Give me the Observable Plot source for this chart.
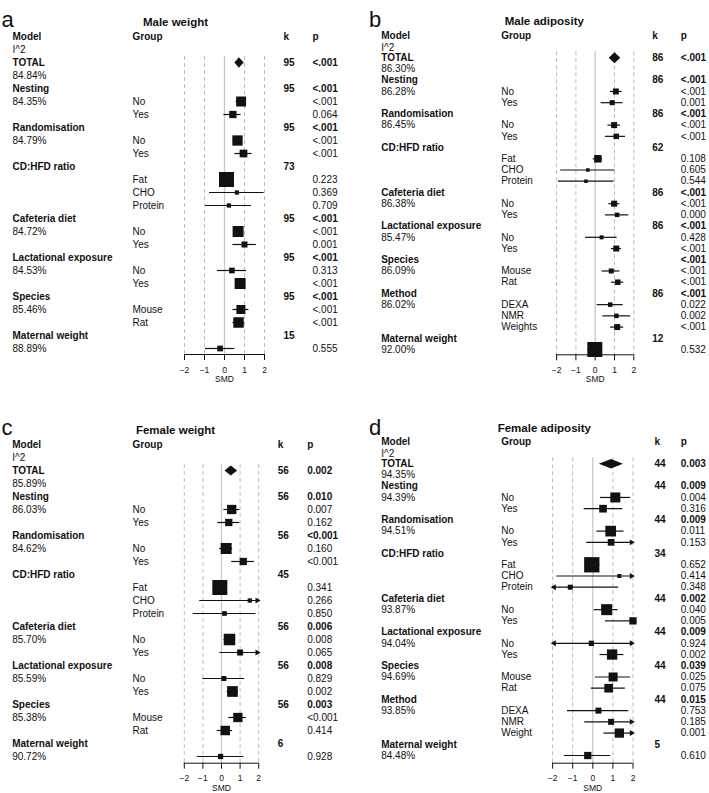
<!DOCTYPE html>
<html><head><meta charset="utf-8">
<script src="https://cdn.jsdelivr.net/npm/d3@7"></script>
<script src="https://cdn.jsdelivr.net/npm/@observablehq/plot@0.6"></script>
<style>
html,body{margin:0;padding:0;background:#fff;overflow:hidden}
#wrap{position:relative;width:709px;height:793px;background:#fff}
.panel{position:absolute}
</style></head><body><div id="wrap"></div>
<script>
// ---------- shared labels ----------
const xTicks = [-2, -1, 0, 1, 2];
const refDashed = [-2, -1, 1, 2];
const refSolid = [0];
const xLabel = "SMD";
const headers = ["Model", "I^2", "Group", "k", "p"];

// ---------- a: Male weight ----------
const mwTitle = "Male weight";
const mwModels = ["TOTAL", "Nesting", "Randomisation", "CD:HFD ratio", "Cafeteria diet", "Lactational exposure", "Species", "Maternal weight"];
const mwI2 = ["84.84%", "84.35%", "84.79%", "", "84.72%", "84.53%", "85.46%", "88.89%"];
const mwK = ["95", "95", "95", "73", "95", "95", "95", "15"];
const mwModelP = ["<.001", "<.001", "<.001", "", "<.001", "<.001", "<.001", ""];
const mwGroups = [[], ["No", "Yes"], ["No", "Yes"], ["Fat", "CHO", "Protein"], ["No", "Yes"], ["No", "Yes"], ["Mouse", "Rat"], [""]];
const mwTotal = [0.72, 0.49, 0.96];
const mwSMD   = [0.83, 0.42, 0.65, 0.95, 0.10, 0.62, 0.22, 0.68, 1.00, 0.37, 0.78, 0.82, 0.70, -0.22];
const mwLower = [0.58, -0.03, 0.43, 0.52, -0.25, -0.75, -0.95, 0.45, 0.42, -0.35, 0.55, 0.42, 0.42, -0.95];
const mwUpper = [1.08, 0.83, 0.87, 1.38, 0.45, 1.98, 1.35, 0.91, 1.60, 1.10, 1.01, 1.22, 1.00, 0.52];
const mwWeight = [10, 7.3, 10.3, 7.7, 15, 4.3, 4.3, 11, 6, 5.7, 11, 9, 10.5, 5.7];
const mwP = ["<.001", "0.064", "<.001", "<.001", "0.223", "0.369", "0.709", "<.001", "0.001", "0.313", "<.001", "<.001", "<.001", "0.555"];

// ---------- b: Male adiposity ----------
const maTitle = "Male adiposity";
const maModels = ["TOTAL", "Nesting", "Randomisation", "CD:HFD ratio", "Cafeteria diet", "Lactational exposure", "Species", "Method", "Maternal weight"];
const maI2 = ["86.30%", "86.28%", "86.45%", "", "86.38%", "85.47%", "86.09%", "86.02%", "92.00%"];
const maK = ["86", "86", "86", "62", "86", "86", "", "86", "12"];
const maModelP = ["<.001", "<.001", "<.001", "", "<.001", "<.001", "<.001", "<.001", ""];
const maGroups = [[], ["No", "Yes"], ["No", "Yes"], ["Fat", "CHO", "Protein"], ["No", "Yes"], ["No", "Yes"], ["Mouse", "Rat"], ["DEXA", "NMR", "Weights"], [""]];
const maTotal = [1.00, 0.70, 1.30];
const maSMD   = [1.07, 0.88, 0.98, 1.09, 0.14, -0.38, -0.48, 0.98, 1.14, 0.33, 1.09, 0.83, 1.17, 0.78, 1.10, 1.14, -0.02];
const maLower = [0.79, 0.31, 0.66, 0.53, -0.10, -1.79, -1.90, 0.71, 0.53, -0.50, 0.84, 0.36, 0.84, 0.10, 0.40, 0.79, -0.38];
const maUpper = [1.40, 1.45, 1.31, 1.57, 0.38, 1.03, 0.98, 1.28, 1.74, 1.14, 1.36, 1.28, 1.48, 1.45, 1.84, 1.48, 0.34];
const maWeight = [6, 5, 6, 5.5, 7.5, 3.5, 3.5, 6, 4.5, 4, 6, 5, 5.5, 4.5, 4.5, 6, 15];
const maP = ["<.001", "0.001", "<.001", "<.001", "0.108", "0.605", "0.544", "<.001", "0.000", "0.428", "<.001", "<.001", "<.001", "0.022", "0.002", "<.001", "0.532"];

// ---------- c: Female weight ----------
const fwTitle = "Female weight";
const fwModels = ["TOTAL", "Nesting", "Randomisation", "CD:HFD ratio", "Cafeteria diet", "Lactational exposure", "Species", "Maternal weight"];
const fwI2 = ["85.89%", "86.03%", "84.62%", "", "85.70%", "85.59%", "85.38%", "90.72%"];
const fwK = ["56", "56", "56", "45", "56", "56", "56", "6"];
const fwModelP = ["0.002", "0.010", "<0.001", "", "0.006", "0.008", "0.003", ""];
const fwGroups = [[], ["No", "Yes"], ["No", "Yes"], ["Fat", "CHO", "Protein"], ["No", "Yes"], ["No", "Yes"], ["Mouse", "Rat"], [""]];
const fwTotal = [0.50, 0.16, 0.84];
const fwSMD   = [0.55, 0.39, 0.25, 1.17, -0.09, 1.52, 0.16, 0.43, 1.00, 0.13, 0.59, 0.88, 0.20, -0.05];
const fwLower = [0.13, -0.20, -0.10, 0.55, -0.45, -1.17, -1.52, 0.13, -0.09, -1.00, 0.30, 0.39, -0.23, -1.30];
const fwUpper = [0.99, 0.98, 0.60, 1.77, 0.27, 2.50, 1.85, 0.76, 2.50, 1.25, 0.90, 1.34, 0.60, 1.20];
const fwWeight = [9.3, 7.3, 11, 7.3, 15, 4.3, 4.7, 11.5, 6, 5, 10.7, 9.3, 9.5, 5.3];
const fwP = ["0.007", "0.162", "0.160", "<0.001", "0.341", "0.266", "0.850", "0.008", "0.065", "0.829", "0.002", "<0.001", "0.414", "0.928"];

// ---------- d: Female adiposity ----------
const faTitle = "Female adiposity";
const faModels = ["TOTAL", "Nesting", "Randomisation", "CD:HFD ratio", "Cafeteria diet", "Lactational exposure", "Species", "Method", "Maternal weight"];
const faI2 = ["94.35%", "94.39%", "94.51%", "", "93.87%", "94.04%", "94.69%", "93.85%", "84.48%"];
const faK = ["44", "44", "44", "34", "44", "44", "44", "44", "5"];
const faModelP = ["0.003", "0.009", "0.009", "", "0.002", "0.009", "0.039", "0.015", ""];
const faGroups = [[], ["No", "Yes"], ["No", "Yes"], ["Fat", "CHO", "Protein"], ["No", "Yes"], ["No", "Yes"], ["Mouse", "Rat"], ["DEXA", "NMR", "Weight"], [""]];
const faTotal = [0.91, 0.30, 1.50];
const faSMD   = [1.12, 0.51, 0.89, 0.91, -0.05, 1.32, -1.12, 0.69, 2.00, -0.07, 0.96, 1.01, 0.79, 0.28, 0.91, 1.32, -0.25];
const faLower = [0.38, -0.43, 0.20, -0.30, -0.40, -1.79, -2.50, 0.07, 0.63, -2.50, 0.36, 0.13, -0.07, -1.26, -0.40, 0.55, -1.42];
const faUpper = [1.88, 1.49, 1.55, 2.50, 0.35, 2.50, 1.29, 1.26, 2.00, 2.50, 1.55, 1.88, 1.62, 1.79, 2.50, 2.50, 0.89];
const faWeight = [10, 7.7, 10.7, 6.7, 15.3, 4, 5, 11, 7.3, 5.3, 10.3, 9, 8.7, 6, 6, 9.3, 7.3];
const faP = ["0.004", "0.316", "0.011", "0.153", "0.652", "0.414", "0.348", "0.040", "0.005", "0.924", "0.002", "0.025", "0.075", "0.753", "0.185", "0.001", "0.610"];

const FONT = '"Liberation Sans", Arial, Helvetica, sans-serif';
const INK = "#111";

function forest(D, L) {
  const modelRows = [], est = [];
  let r = 0, j = 0;
  D.models.forEach((m, i) => {
    modelRows.push({row: r, name: m, i2: D.i2[i], k: D.k[i], p: D.modelP[i]});
    D.groups[i].forEach((g, gi) => {
      est.push({row: r + 1 + gi, group: g, smd: D.smd[j], lo: D.lower[j], hi: D.upper[j], w: D.weight[j], p: D.p[j]});
      j++;
    });
    r += 1 + Math.max(1, D.groups[i].length);
  });
  const nRows = r;
  const [xmin, xmax] = d3.extent(xTicks);
  const [tSmd, tLo, tHi] = D.total;
  const h = L.diamondHalf / L.step;
  const diamond = [{x: tLo, y: 0}, {x: tSmd, y: -h}, {x: tHi, y: 0}, {x: tSmd, y: h}];
  const axisRow = (L.axisY - L.row0) / L.step;
  const axisLine = [{y: axisRow, x1: xmin, x2: xmax}];
  const txt = {fontFamily: FONT, fontSize: 10, fill: INK, textAnchor: "start", frameAnchor: "left"};
  const [cM, cG, cK, cP] = L.cols;
  const [hModel, hI2, hGroup, hK, hP] = headers;
  return Plot.plot({
    width: L.width, height: L.height,
    marginLeft: 0, marginRight: 0, marginTop: 0, marginBottom: L.height - L.axisY,
    style: {fontFamily: FONT, background: "white", overflow: "visible"},
    x: {domain: [xmin, xmax], range: [L.x0 + xmin * L.unit, L.x0 + xmax * L.unit]},
    y: {domain: [0, nRows - 1], range: [L.row0, L.row0 + (nRows - 1) * L.step], axis: null},
    r: {type: "identity"},
    marks: [
      Plot.ruleX(refDashed, {x: d => d, y1: () => 0, y2: () => axisRow, insetTop: -6, stroke: "#bdbdbd", strokeDasharray: "4,3", strokeWidth: 1}),
      Plot.ruleX(refSolid, {x: d => d, y1: () => 0, y2: () => axisRow, insetTop: -6, stroke: "#c8c8c8", strokeWidth: 1.3}),
      Plot.ruleY(axisLine, {y: "y", x1: "x1", x2: "x2", stroke: INK, strokeWidth: 1}),
      Plot.axisX({ticks: xTicks, tickFormat: "d", tickSize: 6, tickPadding: 6, fontSize: 8.5, fontFamily: FONT, color: INK, label: null}),
      Plot.text([xLabel], {x: () => (xmin + xmax) / 2, frameAnchor: "bottom", dy: 27.5, fontSize: 8.5, fontFamily: FONT, fill: INK}),
      Plot.ruleY(est, {y: "row", x1: d => Math.max(d.lo, xmin), x2: d => Math.min(d.hi, xmax), stroke: INK, strokeWidth: 1.2}),
      Plot.dot(est, {x: "smd", y: "row", r: d => d.w / Math.sqrt(Math.PI), symbol: "square", fill: INK}),
      Plot.dot(est.filter(d => d.hi > xmax), {x: d => Math.min(d.hi, xmax), y: "row", symbol: "triangle", r: 2.2, rotate: 90, fill: INK, dx: -1.5}),
      Plot.dot(est.filter(d => d.lo < xmin), {x: d => Math.max(d.lo, xmin), y: "row", symbol: "triangle", r: 2.2, rotate: -90, fill: INK, dx: 1.5}),
      Plot.line(diamond, {x: "x", y: "y", fill: INK, stroke: "none", curve: "linear-closed", z: null}),
      Plot.text([L.letter], {frameAnchor: "top-left", dx: L.letterX, dy: 11.3, fontSize: 22, fontFamily: FONT, fill: INK, textAnchor: "start"}),
      Plot.text([D.title], {frameAnchor: "top", dx: L.titleX - L.width / 2, dy: L.titleY, fontWeight: "bold", fontSize: 11.5, fontFamily: FONT, fill: INK}),
      Plot.text([hModel], {...txt, y: () => L.hdr[0], dx: cM, fontWeight: "bold"}),
      Plot.text([hI2], {...txt, y: () => L.hdr[1], dx: cM}),
      Plot.text([hGroup], {...txt, y: () => L.hdr[0], dx: cG, fontWeight: "bold"}),
      Plot.text([hK], {...txt, y: () => L.hdr[0], dx: cK, fontWeight: "bold"}),
      Plot.text([hP], {...txt, y: () => L.hdr[0], dx: cP, fontWeight: "bold"}),
      Plot.text(modelRows, {...txt, y: "row", text: "name", dx: cM, fontWeight: "bold"}),
      Plot.text(modelRows.filter(d => d.i2), {...txt, y: d => d.row + 1, text: "i2", dx: cM}),
      Plot.text(modelRows, {...txt, y: "row", text: "k", dx: cK, fontWeight: "bold"}),
      Plot.text(modelRows, {...txt, y: "row", text: "p", dx: cP, fontWeight: "bold"}),
      Plot.text(est, {...txt, y: "row", text: "group", dx: cG}),
      Plot.text(est, {...txt, y: "row", text: "p", dx: cP})
    ]
  });
}

const panelData = [
  {title: mwTitle, models: mwModels, i2: mwI2, k: mwK, modelP: mwModelP, groups: mwGroups, total: mwTotal, smd: mwSMD, lower: mwLower, upper: mwUpper, weight: mwWeight, p: mwP},
  {title: maTitle, models: maModels, i2: maI2, k: maK, modelP: maModelP, groups: maGroups, total: maTotal, smd: maSMD, lower: maLower, upper: maUpper, weight: maWeight, p: maP},
  {title: fwTitle, models: fwModels, i2: fwI2, k: fwK, modelP: fwModelP, groups: fwGroups, total: fwTotal, smd: fwSMD, lower: fwLower, upper: fwUpper, weight: fwWeight, p: fwP},
  {title: faTitle, models: faModels, i2: faI2, k: faK, modelP: faModelP, groups: faGroups, total: faTotal, smd: faSMD, lower: faLower, upper: faUpper, weight: faWeight, p: faP}
];
const layouts = [
  {letter: "a", left: 0, top: 0, width: 354, height: 390, x0: 224, unit: 20, row0: 62, step: 13, axisY: 354, cols: [12, 132, 283, 312], hdr: [-2, -1], titleX: 175, titleY: 17, letterX: 1, diamondHalf: 5.3},
  {letter: "b", left: 355, top: 0, width: 354, height: 390, x0: 239.7, unit: 19.3, row0: 57.3, step: 11.22, axisY: 354.3, cols: [25.7, 145.7, 296.7, 325.3], hdr: [-1.92, -0.85], titleX: 188.8, titleY: 16.7, letterX: 13.5, diamondHalf: 5.5},
  {letter: "c", left: 0, top: 408, width: 354, height: 385, x0: 221, unit: 18.6, row0: 62, step: 13, axisY: 354.7, cols: [11.7, 132, 277.3, 306.7], hdr: [-2, -1], titleX: 175, titleY: 17, letterX: 1, diamondHalf: 5},
  {letter: "d", left: 355, top: 408, width: 354, height: 385, x0: 237.3, unit: 20.1, row0: 55.3, step: 11.22, axisY: 354.7, cols: [25.7, 145.7, 299, 325.3], hdr: [-1.92, -0.85], titleX: 188.8, titleY: 15.3, letterX: 13.5, diamondHalf: 4.7}
];

const wrap = document.getElementById("wrap");
panelData.forEach((D, i) => {
  const L = layouts[i];
  const div = document.createElement("div");
  div.className = "panel";
  div.style.left = L.left + "px";
  div.style.top = L.top + "px";
  div.appendChild(forest(D, L));
  wrap.appendChild(div);
});
</script>
</body></html>
